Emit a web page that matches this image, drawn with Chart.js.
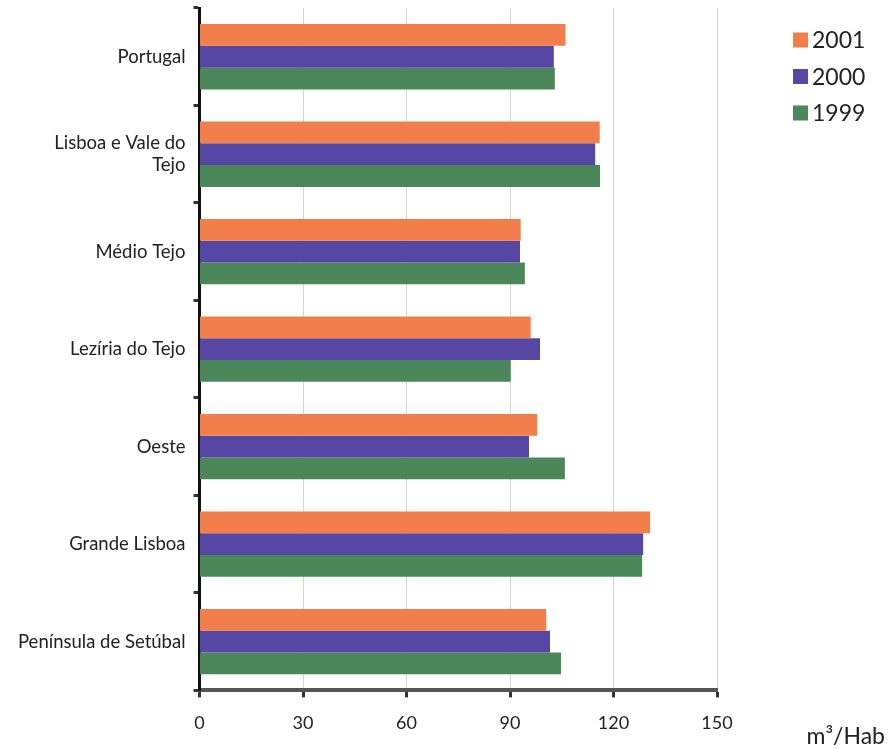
<!DOCTYPE html>
<html>
<head>
<meta charset="utf-8">
<script src="https://cdn.jsdelivr.net/npm/chart.js@4/dist/chart.umd.min.js"></script>
<style>
  html, body { margin: 0; padding: 0; background: #fff; }
  #wrap { width: 888px; height: 749px; position: relative; }
</style>
</head>
<body>
<div id="wrap"><canvas id="c" width="888" height="749"></canvas></div>
<script>
const categories = [
  "Portugal",
  ["Lisboa e Vale do", "Tejo"],
  "Médio Tejo",
  "Lezíria do Tejo",
  "Oeste",
  "Grande Lisboa",
  "Península de Setúbal"
];
const seriesNames = ["2001", "2000", "1999"];
const values2001 = [106.1, 116.0, 93.1, 96.0, 97.9, 130.6, 100.5];
const values2000 = [102.7, 114.7, 92.9, 98.7, 95.5, 128.6, 101.6];
const values1999 = [103.0, 116.1, 94.3, 90.2, 105.9, 128.3, 104.8];
const xTicks = [0, 30, 60, 90, 120, 150];
const unitLabel = "m³/Hab";

const colors = ["#F27F4B", "#5747A4", "#4B8759"];
const FONT = "Lato, 'Open Sans', sans-serif";

// custom legend + unit label
const extrasPlugin = {
  id: 'extras',
  afterDraw(chart) {
    const ctx = chart.ctx;
    ctx.save();
    ctx.font = "23px " + FONT;
    ctx.textBaseline = "middle";
    ctx.textAlign = "left";
    const lx = 793, ly = 40, step = 36.5, box = 15;
    chart.data.datasets.forEach((ds, i) => {
      const cy = ly + i * step;
      ctx.fillStyle = ds.backgroundColor;
      ctx.fillRect(lx, cy - box / 2, box, box);
      ctx.fillStyle = "#222";
      ctx.fillText(ds.label, lx + box + 4, cy + 1);
    });
    ctx.font = "23px " + FONT;
    ctx.textAlign = "right";
    ctx.textBaseline = "alphabetic";
    ctx.fillText(unitLabel, 885, 744);
    ctx.restore();
  }
};

new Chart(document.getElementById('c'), {
  type: 'bar',
  data: {
    labels: categories,
    datasets: [
      { label: seriesNames[0], data: values2001, backgroundColor: colors[0] },
      { label: seriesNames[1], data: values2000, backgroundColor: colors[1] },
      { label: seriesNames[2], data: values1999, backgroundColor: colors[2] }
    ]
  },
  options: {
    indexAxis: 'y',
    responsive: false,
    animation: false,
    devicePixelRatio: 1,
    layout: { padding: { left: 10, top: 8, right: 171, bottom: 0 } },
    datasets: { bar: { barPercentage: 1.0, categoryPercentage: 0.67, borderWidth: 0 } },
    plugins: {
      legend: { display: false },
      tooltip: { enabled: false }
    },
    scales: {
      x: {
        min: 0,
        max: 150,
        afterBuildTicks(axis) { axis.ticks = xTicks.map(v => ({ value: v })); },
        border: { display: true, color: '#555', width: 4 },
        grid: { color: '#d4d4d4', lineWidth: 1, tickColor: '#333', tickWidth: 3, tickLength: 7 },
        ticks: { color: '#222', font: { family: FONT, size: 18 }, padding: 15 }
      },
      y: {
        afterFit(axis) { axis.paddingTop = 0; axis.paddingBottom = 0; },
        border: { display: true, color: '#111', width: 3 },
        grid: { drawOnChartArea: false, offset: true, tickColor: '#333', tickWidth: 3, tickLength: 6 },
        ticks: { color: '#222', font: { family: FONT, size: 18.5 }, padding: 8 }
      }
    }
  },
  plugins: [extrasPlugin]
});
</script>
</body>
</html>
